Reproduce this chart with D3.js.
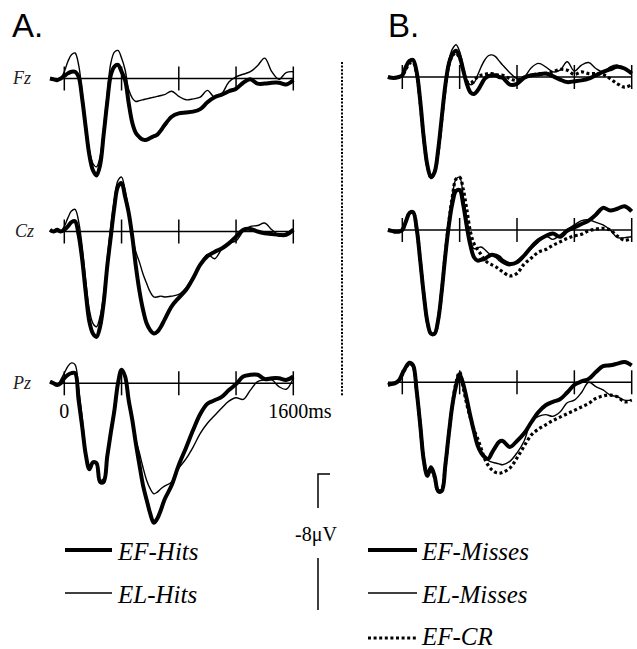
<!DOCTYPE html>
<html><head><meta charset="utf-8">
<script src="https://cdn.jsdelivr.net/npm/d3@7"></script>
<style>html,body{margin:0;padding:0;background:#fff;}svg{display:block;}</style>
</head><body>
<svg id="c" width="637" height="649"></svg>
<script>
// time points (ms)
const times = [-100,-75,-50,-25,0,25,50,75,100,125,150,175,200,225,250,275,300,325,350,375,400,425,450,475,500,525,550,575,600,625,650,675,700,750,800,850,900,950,1000,1050,1100,1150,1200,1250,1300,1350,1400,1450,1500,1550,1600];
const timeTicks = [0,400,800,1200,1600];
const electrodes = ["Fz","Cz","Pz"];
const legendA = ["EF-Hits","EL-Hits"];
const legendB = ["EF-Misses","EL-Misses","EF-CR"];
// amplitudes in µV, negative plotted upward
const fzEFHits = [0,0.05,0.1,0,-0.15,-0.3,-0.4,-0.4,-0.1,1.2,2.9,4.5,5.4,5.7,5.1,3.3,1.4,-0.2,-0.7,-0.8,-0.4,0.1,1.45,2.6,3.2,3.45,3.6,3.6,3.5,3.4,3.3,3.05,2.75,2.25,2.05,2.0,1.95,1.8,1.4,1.1,0.95,0.75,0.6,0.25,0.05,0.3,0.3,0.25,0.25,0.35,0.1];
const fzELHits = [0,0,0.1,0,-0.4,-1.0,-1.4,-1.5,-0.8,0.8,2.6,4.2,5.0,5.2,4.6,2.9,0.9,-0.9,-1.55,-1.65,-1.2,-0.5,0.65,1.15,1.35,1.3,1.25,1.2,1.15,1.1,1.05,1.0,0.95,0.75,1.05,1.25,1.2,1.1,0.7,1.1,0.9,0.2,-0.1,-0.25,-0.4,-0.75,-1.2,-0.4,0.05,-0.35,-0.4];
const czEFHits = [-0.1,0,-0.1,0,-0.1,-0.3,-0.55,-0.6,0.2,1.65,3.6,5.3,6.0,6.2,5.6,4.2,2.05,0.3,-1.45,-2.65,-2.85,-2.05,-1.1,0.3,2.05,3.5,4.6,5.4,5.8,6.0,5.9,5.6,5.2,4.4,3.9,3.45,2.75,1.95,1.45,1.2,1.0,0.7,0.3,-0.1,-0.15,0,0.1,0.15,0.2,0.2,-0.1];
const czELHits = [-0.1,0,0,0,-0.3,-0.8,-1.2,-1.3,-0.6,0.9,2.9,4.6,5.4,5.6,5.0,3.7,1.6,-0.3,-1.9,-3.0,-3.2,-2.4,-1.2,0.25,1.2,1.8,2.5,3.05,3.55,3.85,3.85,3.8,3.85,3.8,3.7,3.3,2.65,1.95,1.35,1.6,1.05,0.7,0.55,0,-0.3,-0.35,-0.5,-0.1,0.2,0.1,-0.15];
const pzEFHits = [-0.1,0,0.1,0,-0.3,-0.5,-0.6,-0.6,1.0,2.55,4.2,5.05,4.65,4.7,5.8,5.8,4.3,2.9,1.6,0,-0.8,-0.4,1.0,2.15,3.55,4.8,6.0,6.85,7.65,8.2,7.95,7.45,6.85,6.0,4.8,3.8,2.75,1.8,1.2,1.0,0.8,0.4,0.05,-0.4,-0.5,-0.5,-0.25,-0.3,-0.3,-0.2,-0.4];
const pzELHits = [-0.1,0,0.1,-0.2,-0.6,-1.0,-1.2,-1.1,0.3,2.0,4.0,5.1,4.6,4.8,5.7,5.6,4.1,2.7,1.3,-0.2,-0.85,-0.4,0.9,2.1,3.3,4.1,4.95,5.7,6.2,6.5,6.4,6.2,6.05,5.8,5.0,4.45,3.75,2.95,2.35,1.9,1.45,1.05,0.85,0.95,0.4,-0.1,-0.2,-0.2,0.2,0.35,-0.3];
const fzEFMisses = [0,0.05,0.05,0,-0.1,-0.6,-0.95,-1.0,-0.3,1.4,3.6,5.2,5.9,5.6,4.3,2.4,0.5,-0.8,-1.35,-1.55,-1.2,-0.4,0.4,0.9,1.0,0.8,0.45,0.1,-0.05,-0.1,-0.1,0,0.05,0.45,0.4,0.05,-0.1,-0.15,-0.2,-0.05,0.15,0.3,0.25,0.2,0.1,-0.1,-0.3,-0.45,-0.6,-0.5,-0.2];
const fzELMisses = [0,0.05,0.05,0,-0.15,-0.65,-1.0,-1.05,-0.35,1.3,3.5,5.1,5.85,5.6,4.3,2.3,0.3,-1.0,-1.65,-1.9,-1.5,-0.6,0.2,0.45,0.35,-0.1,-0.6,-1.0,-1.25,-1.3,-1.2,-0.95,-0.7,-0.25,0.1,0,-0.55,-0.8,-0.6,-0.3,-0.4,-0.9,-0.35,-0.7,-0.85,-0.5,-0.3,-0.6,-0.7,-0.5,-0.3];
const fzEFCR = [0,0.05,0.05,0,-0.1,-0.45,-0.8,-0.85,-0.2,1.5,3.6,5.2,5.9,5.6,4.4,2.5,0.6,-0.7,-1.25,-1.4,-1.1,-0.4,0.25,0.35,0.2,0,-0.1,-0.15,-0.2,-0.2,-0.15,-0.1,-0.1,0.1,0.2,0,-0.1,-0.2,-0.2,-0.3,-0.45,-0.4,-0.15,-0.3,-0.2,-0.2,-0.15,0.1,0.4,0.6,0.45];
const czEFMisses = [0,0.05,0.1,0.1,0,-0.5,-1.0,-1.05,-0.1,1.8,3.8,5.4,6.1,6.1,5.3,3.6,1.5,-0.3,-1.6,-2.3,-2.35,-1.5,-0.2,0.9,1.6,1.8,1.75,1.7,1.55,1.45,1.5,1.6,1.8,2.0,1.9,1.5,1.0,0.6,0.35,0.2,0.4,0.05,-0.15,-0.35,-0.55,-0.9,-1.3,-1.15,-1.25,-1.4,-1.1];
const czELMisses = [0,0.05,0.1,0.1,-0.05,-0.55,-1.05,-1.1,-0.15,1.7,3.7,5.3,6.05,6.1,5.3,3.5,1.3,-0.6,-2.1,-3.0,-3.1,-2.0,-0.6,0.6,1.1,1.05,1.0,1.15,1.35,1.5,1.6,1.8,1.95,2.1,1.8,1.45,1.1,0.7,0.35,0.55,0.3,-0.05,-0.3,-0.55,-0.6,-0.45,-0.3,0,0.45,0.45,0.4];
const czEFCR = [0,0.05,0.1,0.1,0,-0.5,-1.0,-1.05,-0.1,1.8,3.8,5.4,6.1,6.1,5.3,3.6,1.4,-0.5,-2.0,-3.0,-3.1,-2.4,-1.2,0.1,0.8,1.15,1.45,1.75,1.95,2.05,2.15,2.3,2.45,2.7,2.55,2.0,1.65,1.3,1.15,0.9,0.7,0.5,0.35,0.25,0.05,-0.05,-0.1,0,0.35,0.6,0.5];
const pzEFMisses = [0.15,0.1,0.05,-0.1,-0.5,-0.9,-1.15,-1.0,0.5,2.5,4.6,5.5,5.0,5.5,6.4,6.4,4.9,3.0,1.3,0.2,-0.45,0.1,1.0,2.0,2.9,3.7,4.15,4.4,4.5,4.15,3.8,3.5,3.45,3.8,3.45,3.0,2.35,1.75,1.35,1.15,1.0,0.6,0.15,-0.05,-0.2,-0.6,-0.95,-1.0,-1.1,-1.2,-1.0];
const pzELMisses = [0.15,0.1,0.05,-0.1,-0.5,-0.95,-1.2,-1.05,0.4,2.4,4.5,5.5,5.0,5.5,6.4,6.4,4.9,3.0,1.2,0,-0.6,0,0.9,2.1,3.0,3.7,4.1,4.4,4.6,4.7,4.75,4.8,4.85,4.65,4.15,3.45,2.3,2.0,1.9,2.0,1.75,1.2,1.05,0.6,0,0.25,0.45,0.75,0.85,1.05,1.05];
const pzEFCR = [0.15,0.1,0.05,-0.1,-0.45,-0.85,-1.1,-0.95,0.5,2.5,4.6,5.5,5.1,5.6,6.4,6.3,4.9,3.0,1.3,0,-0.6,0.3,1.3,2.1,2.8,3.3,3.9,4.5,4.9,5.15,5.3,5.35,5.3,5.05,4.45,3.75,3.1,2.75,2.5,2.25,2.05,1.85,1.65,1.45,1.25,0.95,0.8,0.75,0.85,1.15,1.05];
const scaleBarValue = -8;

const svg = d3.select("#c");
const SERIF = "'Liberation Serif','Times New Roman',serif";
const SANS = "'Liberation Sans',Arial,sans-serif";
const styles = {
  thick: {w: 4, dash: null},
  thin: {w: 1.4, dash: null},
  dotted: {w: 3.2, dash: "3,2.6"}
};

const panels = [
  {title: "A.", tx: 12, x0: 64.3, x1: 293.3, bases: [78.5, 231.5, 383.3],
   data: [[fzEFHits, fzELHits],[czEFHits, czELHits],[pzEFHits, pzELHits]],
   kinds: ["thick","thin"]},
  {title: "B.", tx: 388, x0: 402.3, x1: 631.7, bases: [77, 230, 382.3],
   data: [[fzEFMisses, fzELMisses, fzEFCR],[czEFMisses, czELMisses, czEFCR],[pzEFMisses, pzELMisses, pzEFCR]],
   kinds: ["thick","thin","dotted"]}
];
const pxPerUV = 17;

panels.forEach((p, pi) => {
  const x = d3.scaleLinear().domain([0, 1600]).range([p.x0, p.x1]);
  svg.append("text").attr("x", p.tx).attr("y", 37).attr("font-family", SANS)
    .attr("font-size", 33).text(p.title);
  p.bases.forEach((b, ei) => {
    const y = d3.scaleLinear().domain([0, 8]).range([b, b + 8 * pxPerUV]);
    const g = svg.append("g");
    g.append("line").attr("x1", x(-100)).attr("x2", x(1600)).attr("y1", b).attr("y2", b)
      .attr("stroke", "#000").attr("stroke-width", 1.5);
    g.selectAll(".tk").data(timeTicks).join("line")
      .attr("x1", d => x(d)).attr("x2", d => x(d)).attr("y1", b - 12).attr("y2", b + 12)
      .attr("stroke", "#000").attr("stroke-width", 1.5);
    if (pi === 0) {
      g.append("text").attr("x", ei === 1 ? 15 : 13).attr("y", b + 5.5)
        .attr("font-family", SERIF).attr("font-style", "italic").attr("font-size", 18)
        .attr("fill", "#222").text(electrodes[ei]);
    }
    const line = d3.line().x((d, i) => x(times[i])).y(d => y(d)).curve(d3.curveCatmullRom.alpha(0.5));
    const order = p.kinds.map((k, i) => i).reverse();
    order.forEach(si => {
      const st = styles[p.kinds[si]];
      g.append("path").attr("d", line(p.data[ei][si])).attr("fill", "none")
        .attr("stroke", "#000").attr("stroke-width", st.w)
        .attr("stroke-linejoin", "round")
        .attr("stroke-dasharray", st.dash);
    });
    if (pi === 0 && ei === 2) {
      g.append("text").attr("x", x(0)).attr("y", b + 35).attr("text-anchor", "middle")
        .attr("font-family", SERIF).attr("font-size", 20).text(timeTicks[0]);
      g.append("text").attr("x", x(1600) - 25).attr("y", b + 35)
        .attr("font-family", SERIF).attr("font-size", 20).text(timeTicks[4] + "ms");
    }
  });
});

// divider
svg.append("line").attr("x1", 342).attr("x2", 342).attr("y1", 62).attr("y2", 396)
  .attr("stroke", "#000").attr("stroke-width", 2).attr("stroke-dasharray", "2,1.6");

// scale bar
const sb = d3.scaleLinear().domain([0, scaleBarValue]).range([610, 474]);
svg.append("path").attr("d", `M330,${sb(scaleBarValue)}H318V508M318,558V${sb(0)}`)
  .attr("fill", "none").attr("stroke", "#000").attr("stroke-width", 1.5);
svg.append("text").attr("x", 316).attr("y", 541).attr("text-anchor", "middle")
  .attr("font-family", SERIF).attr("font-size", 20).text(scaleBarValue + "\u03BCV");

// legends
function legend(items, kinds, lx0, lx1, tx, ys, dy) {
  items.forEach((t, i) => {
    const st = styles[kinds[i]];
    svg.append("line").attr("x1", lx0).attr("x2", lx1).attr("y1", ys[i]).attr("y2", ys[i])
      .attr("stroke", "#000").attr("stroke-width", st.w).attr("stroke-dasharray", st.dash);
    svg.append("text").attr("x", tx).attr("y", ys[i] + dy[i]).attr("font-family", SERIF)
      .attr("font-style", "italic").attr("font-size", 25).text(t);
  });
}
legend(legendA, ["thick","thin"], 65, 112, 118, [550, 593], [10, 10]);
legend(legendB, ["thick","thin","dotted"], 368, 417, 422, [550, 593, 638], [10, 10, 7]);
</script>
</body></html>
